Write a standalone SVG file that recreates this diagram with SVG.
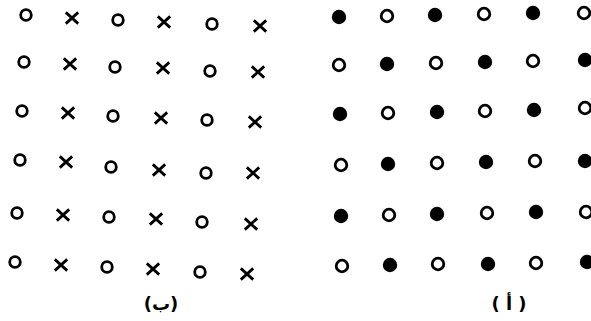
<svg xmlns="http://www.w3.org/2000/svg" xmlns:xlink="http://www.w3.org/1999/xlink" width="591" height="321" viewBox="0 0 591 321">
<style>
.o{fill:none;stroke:#000;stroke-width:2.8}
.x{stroke:#000;stroke-width:2.8;stroke-linecap:butt;fill:none}
.w{fill:none;stroke:#000;stroke-width:2.8}
.f{fill:#000}
.lbl{font-family:"DejaVu Sans","Noto Sans",sans-serif;font-size:18px;font-weight:bold;fill:#000;text-anchor:middle}
</style>
<defs>
<circle id="ring" class="o" r="5.3"/>
<path id="cross" class="x" d="M-6.2,-5.6L6.2,5.6M6.2,-5.6L-6.2,5.6"/>
<circle id="open" class="w" r="5.8"/>
<circle id="dot" class="f" r="7.2"/>
</defs>
<rect width="591" height="321" fill="#fff"/>
<g id="panel-b">
<g id="b-r1"><use href="#ring" x="26" y="15"/><use href="#cross" x="72" y="18"/><use href="#ring" x="118" y="20"/><use href="#cross" x="164" y="22"/><use href="#ring" x="212" y="24"/><use href="#cross" x="260" y="26"/></g>
<g id="b-r2"><use href="#ring" x="24" y="62"/><use href="#cross" x="70" y="64"/><use href="#ring" x="115" y="67"/><use href="#cross" x="163" y="68"/><use href="#ring" x="210" y="71"/><use href="#cross" x="258" y="72"/></g>
<g id="b-r3"><use href="#ring" x="22" y="111"/><use href="#cross" x="68" y="113"/><use href="#ring" x="113" y="116"/><use href="#cross" x="161" y="118"/><use href="#ring" x="207" y="120"/><use href="#cross" x="255" y="122"/></g>
<g id="b-r4"><use href="#ring" x="20" y="160"/><use href="#cross" x="66" y="162"/><use href="#ring" x="111" y="167"/><use href="#cross" x="159" y="170"/><use href="#ring" x="206" y="173"/><use href="#cross" x="253" y="173"/></g>
<g id="b-r5"><use href="#ring" x="17" y="213"/><use href="#cross" x="63" y="215"/><use href="#ring" x="109" y="217"/><use href="#cross" x="156" y="219"/><use href="#ring" x="202" y="222"/><use href="#cross" x="251" y="224"/></g>
<g id="b-r6"><use href="#ring" x="15" y="262"/><use href="#cross" x="61" y="265"/><use href="#ring" x="107" y="267"/><use href="#cross" x="153" y="269"/><use href="#ring" x="200" y="272"/><use href="#cross" x="247" y="274"/></g>
<text id="label-b" class="lbl" x="161" y="310">(ب)</text>
</g>
<g id="panel-a">
<g id="a-r1"><use href="#dot" x="339" y="17"/><use href="#open" x="387" y="16"/><use href="#dot" x="435" y="15"/><use href="#open" x="484" y="14"/><use href="#dot" x="533" y="13"/><use href="#open" x="584" y="13"/></g>
<g id="a-r2"><use href="#open" x="339" y="65"/><use href="#dot" x="387" y="64"/><use href="#open" x="436" y="63"/><use href="#dot" x="485" y="62"/><use href="#open" x="533" y="61"/><use href="#dot" x="585" y="60"/></g>
<g id="a-r3"><use href="#dot" x="340" y="114"/><use href="#open" x="388" y="113"/><use href="#dot" x="437" y="112"/><use href="#open" x="485" y="111"/><use href="#dot" x="534" y="110"/><use href="#open" x="585" y="108"/></g>
<g id="a-r4"><use href="#open" x="341" y="165"/><use href="#dot" x="388" y="164"/><use href="#open" x="437" y="163"/><use href="#dot" x="486" y="162"/><use href="#open" x="535" y="161"/><use href="#dot" x="585" y="161"/></g>
<g id="a-r5"><use href="#dot" x="341" y="216"/><use href="#open" x="389" y="215"/><use href="#dot" x="437" y="214"/><use href="#open" x="487" y="213"/><use href="#dot" x="536" y="212"/><use href="#open" x="586" y="212"/></g>
<g id="a-r6"><use href="#open" x="342" y="266"/><use href="#dot" x="390" y="265"/><use href="#open" x="438" y="264"/><use href="#dot" x="488" y="264"/><use href="#open" x="536" y="263"/><use href="#dot" x="587" y="262"/></g>
<text id="label-a" class="lbl" x="509" y="310">( أ )</text>
</g>
</svg>
